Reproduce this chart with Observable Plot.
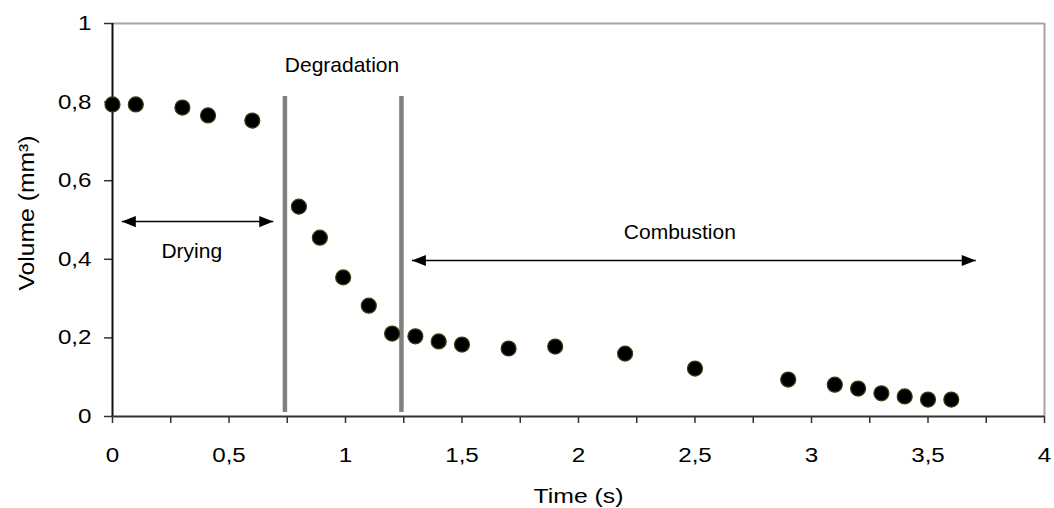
<!DOCTYPE html>
<html>
<head>
<meta charset="utf-8">
<script src="https://cdn.jsdelivr.net/npm/d3@7"></script>
<script src="https://cdn.jsdelivr.net/npm/@observablehq/plot@0.6"></script>
<style>
  html, body { margin: 0; padding: 0; background: #fff; }
  svg { font-family: "Liberation Sans", Arial, sans-serif; }
</style>
</head>
<body>
<div id="chart"></div>
<script>
// Data
const times   = [0, 0.1, 0.3, 0.41, 0.6, 0.8, 0.89, 0.99, 1.1, 1.2, 1.3, 1.4, 1.5, 1.7, 1.9, 2.2, 2.5, 2.9, 3.1, 3.2, 3.3, 3.4, 3.5, 3.6];
const volumes = [0.794, 0.794, 0.786, 0.766, 0.753, 0.534, 0.455, 0.354, 0.282, 0.211, 0.204, 0.191, 0.183, 0.173, 0.178, 0.160, 0.122, 0.094, 0.081, 0.071, 0.059, 0.051, 0.043, 0.043];

const phaseBounds = [0.74, 1.24];          // grey vertical separators (s)
const phaseLineTop = 0.814;                 // separator top (mm3)
const phaseLineBottom = 0.01;

const arrowStarts = [0.04, 1.285];
const arrowEnds   = [0.69, 3.705];
const arrowLevels = [0.496, 0.397];

const phaseNames = ["Drying", "Degradation", "Combustion"];
const phaseLabelX = [0.34, 0.985, 2.435];
const phaseLabelY = [0.42, 0.893, 0.47];

const xTicks = d3.range(0, 4.001, 0.25);
const yTicks = [0, 0.2, 0.4, 0.6, 0.8, 1];
const xTitle = "Time (s)";
const yTitle = "Volume (mm³)";

const arrows = arrowStarts.map((s, i) => ({x1: s, x2: arrowEnds[i], y: arrowLevels[i]}));
const labels = phaseNames.map((n, i) => ({name: n, x: phaseLabelX[i], y: phaseLabelY[i]}));
const points = times.map((t, i) => ({t, v: volumes[i]}));

const comma = d => String(d).replace(".", ",");

function triMarker(color) {
  const m = d3.create("svg:marker")
    .attr("viewBox", "-5 -5 10 10")
    .attr("markerWidth", 14)
    .attr("markerHeight", 14)
    .attr("markerUnits", "userSpaceOnUse")
    .attr("refX", 5)
    .attr("orient", "auto-start-reverse")
    .attr("overflow", "visible");
  m.append("path").attr("d", "M-5,-4L5,0L-5,4Z").attr("fill", color).attr("stroke", "none");
  return m.node();
}

const chart = Plot.plot({
  width: 1054,
  height: 508,
  marginLeft: 112,
  marginRight: 10,
  marginTop: 23,
  marginBottom: 92,
  style: {fontFamily: "'Liberation Sans', Arial, sans-serif", background: "#fff", color: "#000"},
  x: {domain: [0, 4]},
  y: {domain: [0, 1]},
  marks: [
    Plot.ruleY([1], {stroke: "#a6a6a6", strokeWidth: 2}),
    Plot.ruleX([4], {stroke: "#a6a6a6", strokeWidth: 2}),
    Plot.axisX({
      ticks: xTicks,
      tickFormat: d => (Math.abs(d * 2 - Math.round(d * 2)) < 1e-9 ? comma(d) : ""),
      tickSize: 7,
      tickPadding: 24,
      fontSize: 20,
      stroke: "#333",
      strokeWidth: 1.5,
      label: xTitle,
      labelAnchor: "center",
      labelArrow: "none",
      labelOffset: 86
    }),
    Plot.axisY({
      ticks: yTicks,
      tickFormat: comma,
      tickSize: 8,
      tickPadding: 13,
      fontSize: 20,
      stroke: "#333",
      strokeWidth: 1.5,
      label: null
    }),
    Plot.text([yTitle], {frameAnchor: "left", text: d => d, rotate: -90, dx: -86, dy: -7, fontSize: 22, textAnchor: "middle", lineAnchor: "middle", fill: "#000"}),
    Plot.ruleX([0], {stroke: "#111", strokeWidth: 2}),
    Plot.ruleY([0], {stroke: "#333", strokeWidth: 2}),
    Plot.ruleX(phaseBounds, {y1: phaseLineBottom, y2: phaseLineTop, stroke: "#808080", strokeWidth: 4.5}),
    Plot.link(arrows, {x1: "x1", x2: "x2", y1: "y", y2: "y", stroke: "#000", strokeWidth: 1.5, markerStart: triMarker, markerEnd: triMarker}),
    Plot.text(labels, {x: "x", y: "y", text: "name", fontSize: 21, fill: "#000"}),
    Plot.dot(points, {x: "t", y: "v", r: 7.5, fill: "#000", stroke: "#3b3b12", strokeWidth: 1.2})
  ]
});
chart.querySelectorAll('[aria-label="x-axis label"] text').forEach(t => t.setAttribute("font-size", 21));
chart.querySelectorAll('[aria-label="x-axis tick label"] text, [aria-label="y-axis tick label"] text').forEach(t => t.setAttribute("font-size", 20.5));
document.getElementById("chart").appendChild(chart);

// The reference lettering is drawn slightly wide: stretch texts along their length
function stretch(selector, factor) {
  chart.querySelectorAll(selector).forEach(t => {
    const len = t.getComputedTextLength();
    if (len > 0) {
      t.setAttribute("textLength", (len * factor).toFixed(1));
      t.setAttribute("lengthAdjust", "spacingAndGlyphs");
    }
  });
}
stretch('[aria-label="x-axis tick label"] text', 1.18);
stretch('[aria-label="y-axis tick label"] text', 1.18);
stretch('[aria-label="x-axis label"] text', 1.18);
// y title: match the reference length (~155px)
chart.querySelectorAll('[aria-label="text"] text').forEach(t => {
  if (t.textContent === yTitle) {
    t.setAttribute("textLength", 155);
    t.setAttribute("lengthAdjust", "spacingAndGlyphs");
  }
});
</script>
</body>
</html>
